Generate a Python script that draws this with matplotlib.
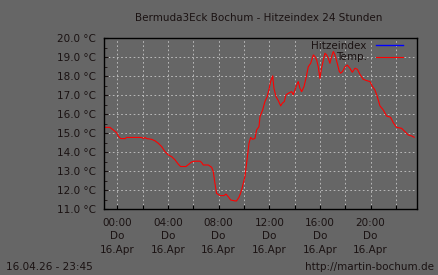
import numpy as np
import matplotlib
matplotlib.use("Agg")
import matplotlib.pyplot as plt

# values (hours since 00:00, temperature in °C)
hours = [-0.97, -0.58, -0.31, -0.05, 0.08, 0.27, 0.61, 0.74, 1.27, 1.92, 2.06, 2.19, 2.32,
         2.71, 2.98, 3.24, 3.50, 3.77, 4.03, 4.29, 4.56, 4.82, 5.00, 5.42, 5.61, 5.87, 6.13,
         6.53, 6.66, 6.79, 7.19, 7.45, 7.58, 7.71, 7.84, 8.11, 8.42, 8.58, 8.77, 8.95, 9.29,
         9.42, 9.63, 9.81, 9.95, 10.08, 10.21, 10.40, 10.53, 10.69, 10.87, 11.00, 11.19, 11.27,
         11.48, 11.66, 11.84, 12.00, 12.11, 12.27, 12.37, 12.53, 12.71, 12.90, 13.03, 13.19,
         13.32, 13.50, 13.77, 13.90, 14.03, 14.16, 14.29, 14.42, 14.56, 14.74, 14.90, 15.08,
         15.27, 15.48, 15.61, 15.74, 15.87, 16.00, 16.13, 16.27, 16.40, 16.53, 16.66, 16.79,
         16.92, 17.06, 17.19, 17.37, 17.53, 17.64, 17.79, 17.98, 18.16, 18.37, 18.56, 18.77,
         18.95, 19.16, 19.42, 19.69, 19.95, 20.16, 20.34, 20.53, 20.74, 21.00, 21.26, 21.58,
         21.79, 22.05, 22.45, 22.71, 22.97, 23.24, 23.44]
temp = [15.31, 15.31, 15.17, 15.03, 14.85, 14.72, 14.72, 14.78, 14.78, 14.78, 14.72, 14.78, 14.72,
        14.68, 14.60, 14.47, 14.30, 14.03, 13.86, 13.77, 13.60, 13.37, 13.25, 13.25, 13.35, 13.49, 13.53,
        13.53, 13.46, 13.33, 13.33, 13.21, 12.98, 12.37, 11.84, 11.72, 11.72, 11.80, 11.66, 11.49, 11.44,
        11.44, 11.66, 12.00, 12.37, 12.72, 13.42, 14.47, 14.78, 14.68, 14.73, 15.17, 15.35, 15.88,
        16.23, 16.67, 16.93, 17.37, 17.72, 18.02, 17.37, 16.93, 16.72, 16.44, 16.58, 16.67,
        17.02, 17.10, 17.19, 17.02, 17.28, 17.54, 17.72, 17.37, 17.19, 17.45, 17.89, 18.50,
        18.68, 19.12, 19.03, 18.86, 18.50, 17.89, 18.42, 18.86, 19.21, 19.12, 18.95, 18.68,
        19.03, 19.30, 19.12, 18.68, 18.25, 18.16, 18.25, 18.50, 18.59, 18.42, 18.21, 18.42,
        18.37, 18.10, 17.84, 17.77, 17.72, 17.45, 17.28, 16.93, 16.44, 16.23, 15.91, 15.84,
        15.56, 15.31, 15.26, 15.09, 14.91, 14.86, 14.79]

tick_hours = [0, 4, 8, 12, 16, 20]
tick_labels = ["00:00\nDo\n16.Apr", "04:00\nDo\n16.Apr", "08:00\nDo\n16.Apr",
               "12:00\nDo\n16.Apr", "16:00\nDo\n16.Apr", "20:00\nDo\n16.Apr"]
y_ticks = [11, 12, 13, 14, 15, 16, 17, 18, 19, 20]

bg = "#666666"
txt = "#1a1212"
fs = 7.5

fig = plt.figure(figsize=(4.38, 2.75), dpi=100, facecolor=bg)
ax = fig.add_axes([0.238, 0.239, 0.713, 0.622], facecolor=bg)

ax.plot([], [], color="#0000ff", lw=1, label="Hitzeindex")
ax.plot(hours, temp, color="#ff0000", lw=0.8, label="Temp.")

ax.set_xlim(-1.03, 23.63)
ax.set_ylim(11, 20)

# grid every 2 h, labels every 4 h
ax.set_xticks(np.arange(0, 24, 2))
ax.set_xticklabels([tick_labels[tick_hours.index(h)] if h in tick_hours else "" for h in range(0, 24, 2)],
                   linespacing=1.45)
ax.set_yticks(y_ticks)
ax.set_yticklabels([f"{v:.1f} °C" for v in y_ticks])
ax.set_yticks(np.arange(11, 20, 0.5), minor=True)

ax.grid(True, color="#c8c8c8", linestyle=(0, (2, 3)), linewidth=0.6)
ax.tick_params(direction="in", colors=txt, labelsize=fs, length=3, pad=6)
ax.tick_params(axis="x", color="black", pad=6)
ax.tick_params(axis="y", which="minor", direction="in", length=2, color=txt)
for lab in ax.get_xticklabels() + ax.get_yticklabels():
    lab.set_color(txt)
for s in ax.spines.values():
    s.set_color("black")
    s.set_linewidth(1)

leg = ax.legend(loc="upper right", frameon=False, fontsize=fs, handlelength=2.6,
                handletextpad=0.9, markerfirst=False, borderaxespad=0.0, labelspacing=0.15,
                borderpad=0.0, bbox_to_anchor=(0.957, 0.985))
for t in leg.get_texts():
    t.set_color(txt)

fig.text(0.59, 0.935, "Bermuda3Eck Bochum - Hitzeindex 24 Stunden", ha="center", va="center",
         fontsize=fs, color=txt)
fig.text(0.013, 0.03, "16.04.26 - 23:45", ha="left", va="center", fontsize=fs, color=txt)
fig.text(0.99, 0.03, "http://martin-bochum.de", ha="right", va="center", fontsize=fs, color=txt)

fig.savefig("out.png", dpi=100, facecolor=bg)
